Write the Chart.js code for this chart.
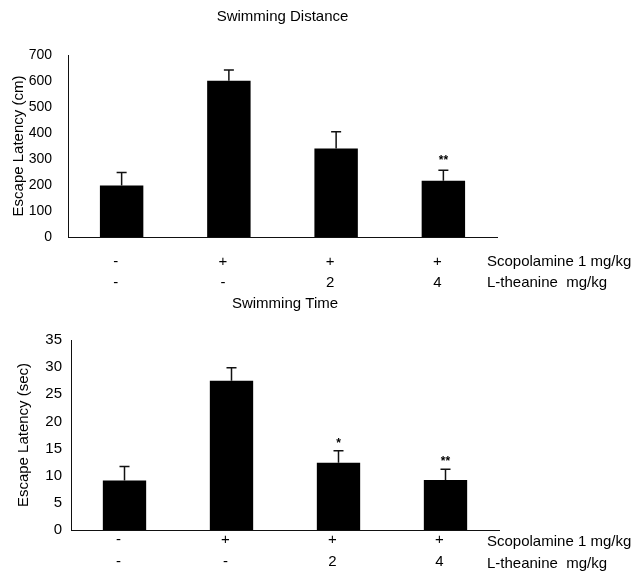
<!DOCTYPE html>
<html><head><meta charset="utf-8">
<script src="https://cdn.jsdelivr.net/npm/chart.js@4/dist/chart.umd.min.js"></script>
<style>
html,body{margin:0;padding:0;background:#fff;}
#wrap{position:relative;width:642px;height:573px;overflow:hidden;background:#fff;}
.panel{position:absolute;left:0;width:642px;}
</style></head><body>
<div id="wrap">
<div class="panel" style="top:0;height:290px"><canvas id="c1"></canvas></div>
<div class="panel" style="top:290px;height:283px"><canvas id="c2"></canvas></div>
</div>
<script>
// ---- data ----
const categories = [['-', '-'], ['+', '-'], ['+', '2'], ['+', '4']];
const rowNames = ['Scopolamine 1 mg/kg', 'L-theanine  mg/kg'];

const distanceTitle = 'Swimming Distance';
const distanceAxisTitle = 'Escape Latency (cm)';
const distanceMeans = [198, 601, 340, 216];
const distanceErrors = [50, 41, 65, 41];
const distanceSig = ['', '', '', '**'];
const distanceTickMin = 0, distanceTickMax = 700, distanceTickStep = 100;

const timeTitle = 'Swimming Time';
const timeAxisTitle = 'Escape Latency (sec)';
const timeMeans = [9.1, 27.5, 12.4, 9.2];
const timeErrors = [2.6, 2.4, 2.2, 2.0];
const timeSig = ['', '', '*', '**'];
const timeTickMin = 0, timeTickMax = 35, timeTickStep = 5;

const FONT = '"Liberation Sans", Arial, sans-serif';

const annotPlugin = {
  id: 'annot',
  afterDatasetsDraw(chart, args, o) {
    const ctx = chart.ctx;
    const meta = chart.getDatasetMeta(0);
    const ys = chart.scales.y;
    const ca = chart.chartArea;
    ctx.save();
    ctx.strokeStyle = '#111';
    ctx.fillStyle = '#000';
    ctx.lineWidth = 1.5;
    meta.data.forEach((bar, i) => {
      const base = ys.getPixelForValue(o.means[i]);
      const top = ys.getPixelForValue(o.means[i] + o.errors[i]);
      ctx.beginPath();
      ctx.moveTo(bar.x, base);
      ctx.lineTo(bar.x, top);
      ctx.moveTo(bar.x - 5, top);
      ctx.lineTo(bar.x + 5, top);
      ctx.stroke();
      if (o.sig[i]) {
        ctx.font = 'bold 12px ' + FONT;
        ctx.textAlign = 'center';
        ctx.textBaseline = 'alphabetic';
        ctx.fillText(o.sig[i], bar.x, top - o.sigGap + 7);
      }
    });
    ctx.font = '15px ' + FONT;
    ctx.textAlign = 'center';
    ctx.textBaseline = 'middle';
    ctx.fillText(o.title, (ca.left + ca.right) / 2, o.titleY);
    ctx.textAlign = 'left';
    o.rows.forEach((t, k) => {
      const y = ca.bottom + o.tickPad + o.lineH * (k + 0.5) + o.rowShift;
      ctx.fillText(t, o.rowX, y);
    });
    ctx.restore();
  }
};

function makeChart(id, g) {
  const H = g.height;
  return new Chart(document.getElementById(id), {
    type: 'bar',
    data: {
      labels: categories,
      datasets: [{
        data: g.means,
        backgroundColor: '#000',
        borderWidth: 0,
        barPercentage: 0.405,
        categoryPercentage: 1
      }]
    },
    plugins: [annotPlugin],
    options: {
      responsive: true,
      maintainAspectRatio: false,
      animation: false,
      layout: { padding: { top: g.top, right: 642 - g.right, left: 0, bottom: 0 } },
      plugins: {
        legend: { display: false },
        tooltip: { enabled: false },
        title: { display: false },
        annot: {
          means: g.means, errors: g.errors, sig: g.sig, sigGap: g.sigGap,
          title: g.title, titleY: g.titleY, rows: rowNames, rowX: 487,
          tickPad: g.tickPad, lineH: g.lineH, rowShift: g.rowShift
        }
      },
      scales: {
        x: {
          offset: true,
          grid: { display: false, drawTicks: false },
          border: { display: true, color: '#111', width: 1 },
          ticks: {
            color: '#000', font: { family: FONT, size: 15, lineHeight: g.lineH / 15 },
            padding: g.tickPad, labelOffset: -6, maxRotation: 0, autoSkip: false
          },
          afterFit: s => { s.height = H - g.bottom; }
        },
        y: {
          min: g.min, max: g.max,
          grid: { display: false, drawTicks: false },
          border: { display: true, color: '#111', width: 1 },
          ticks: { stepSize: g.step, color: '#000', font: { family: FONT, size: g.tickSize }, padding: g.yPad },
          title: { display: true, text: g.axisTitle, color: '#000', font: { family: FONT, size: 15 }, padding: { top: g.yTitlePad, bottom: 0 } },
          afterFit: s => { s.width = g.left; }
        }
      }
    }
  });
}

makeChart('c1', {
  height: 290, left: 68, right: 497, top: 55, bottom: 237,
  means: distanceMeans, errors: distanceErrors, sig: distanceSig, sigGap: 13,
  min: distanceTickMin, max: distanceTickMax, step: distanceTickStep,
  title: distanceTitle, titleY: 17, axisTitle: distanceAxisTitle, yTitlePad: 10,
  tickSize: 14, yPad: 16, tickPad: 14.5, lineH: 21, rowShift: 0
});
makeChart('c2', {
  height: 283, left: 71, right: 499, top: 50, bottom: 240,
  means: timeMeans, errors: timeErrors, sig: timeSig, sigGap: 11,
  min: timeTickMin, max: timeTickMax, step: timeTickStep,
  title: timeTitle, titleY: 14, axisTitle: timeAxisTitle, yTitlePad: 15,
  tickSize: 15, yPad: 9, tickPad: -1, lineH: 22, rowShift: 2
});
</script>
</body></html>
